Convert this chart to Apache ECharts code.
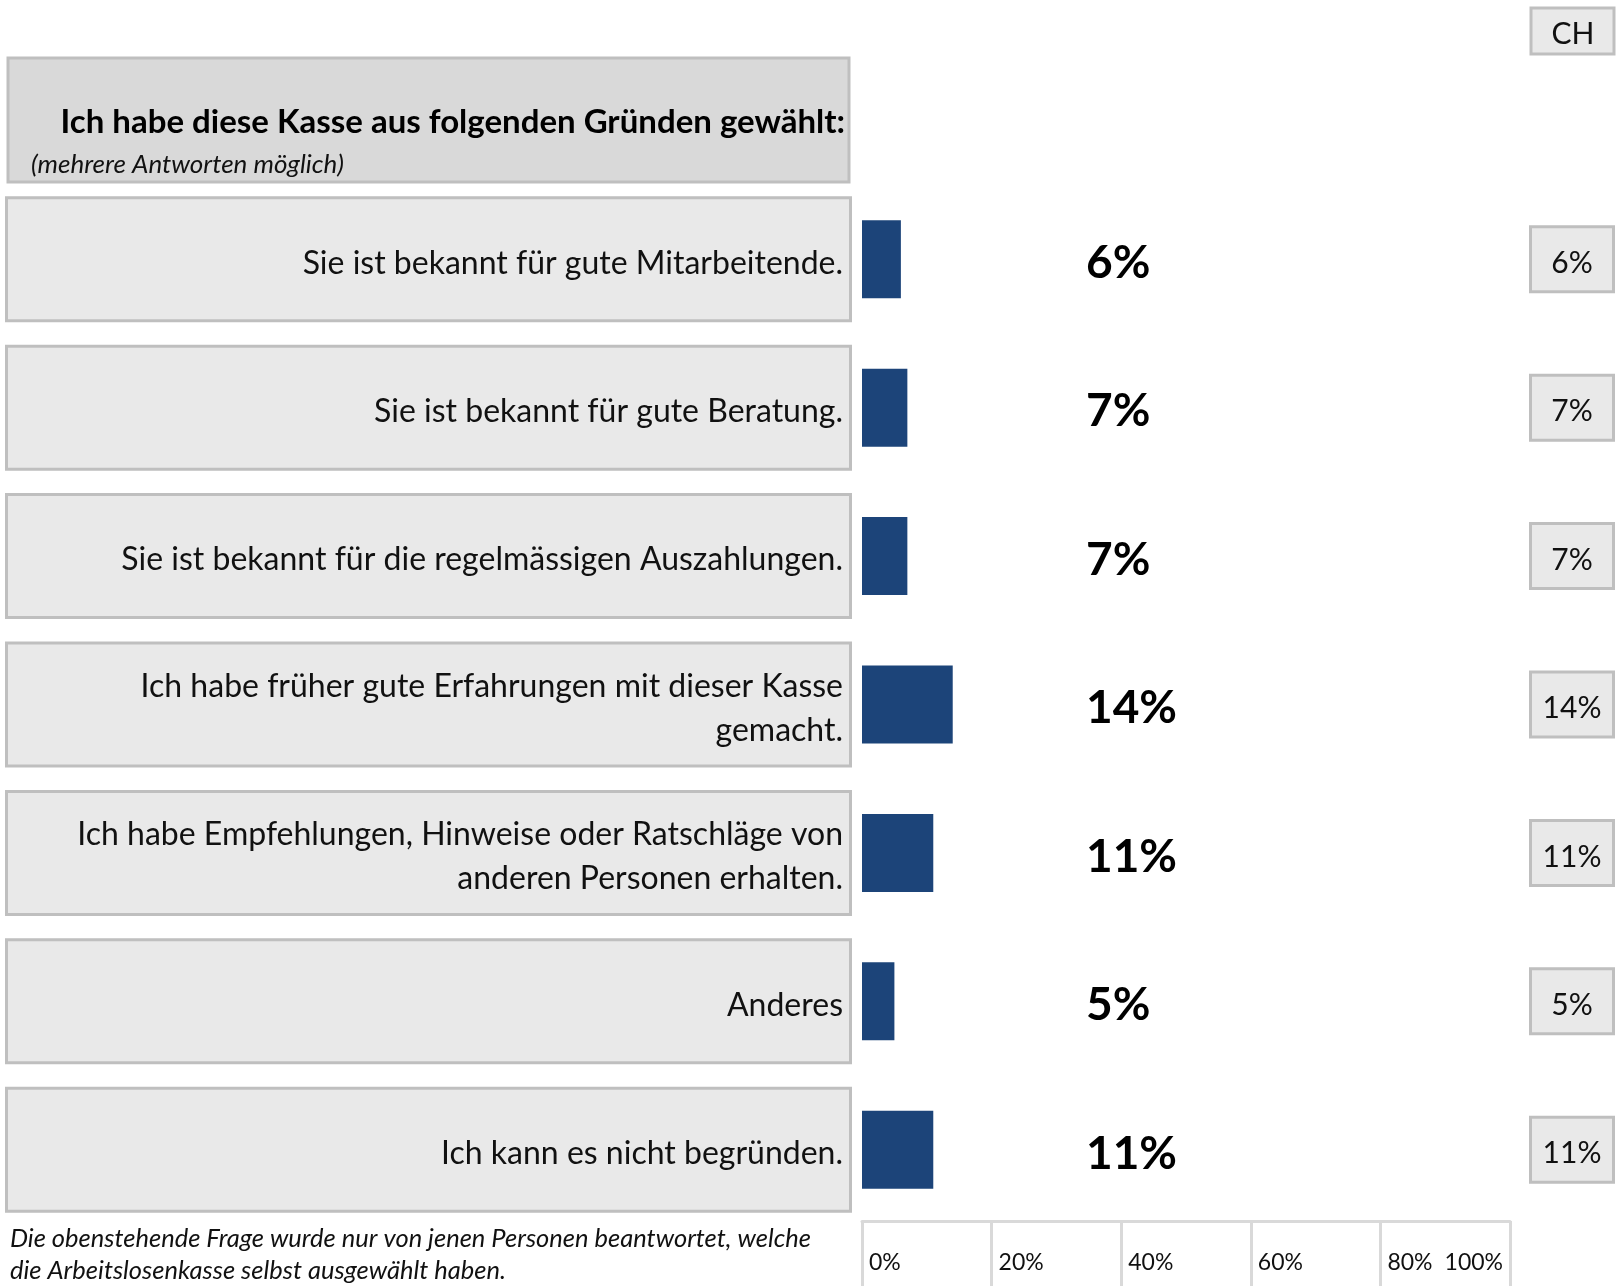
<!DOCTYPE html>
<html>
<head>
<meta charset="utf-8">
<script src="https://cdn.jsdelivr.net/npm/echarts@6/dist/echarts.min.js"></script>
<style>
  html, body { margin: 0; padding: 0; background: #fff; }
  #chart { width: 1620px; height: 1286px; }
</style>
</head>
<body>
<div id="chart"></div>
<script>
// Reasons for choosing the unemployment fund (multiple answers possible)
const categories = [
  'Sie ist bekannt für gute Mitarbeitende.',
  'Sie ist bekannt für gute Beratung.',
  'Sie ist bekannt für die regelmässigen Auszahlungen.',
  'Ich habe früher gute Erfahrungen mit dieser Kasse\ngemacht.',
  'Ich habe Empfehlungen, Hinweise oder Ratschläge von\nanderen Personen erhalten.',
  'Anderes',
  'Ich kann es nicht begründen.'
];
// share of respondents, in percent
const values = [6, 7, 7, 14, 11, 5, 11];
// Switzerland overall, in percent
const chValues = [6, 7, 7, 14, 11, 5, 11];
const axisTicks = [0, 20, 40, 60, 80, 100];

const FONT = 'Lato';
const GRID_LINE = '#d9d9d9';

// one- and two-line labels get their own rich styles so every box is equally tall
const rowLabel = v => {
  const lines = v.split('\n');
  return lines.length === 1
    ? '{s|' + lines[0] + '}'
    : '{a|' + lines[0] + '}\n{b|' + lines[1] + '}';
};
const rowText = { fontFamily: FONT, fontSize: 32, color: '#111' };

const chart = echarts.init(document.getElementById('chart'), null, { renderer: 'canvas' });

chart.setOption({
  backgroundColor: '#ffffff',
  animation: false,
  textStyle: { fontFamily: FONT },
  grid: [
    { left: 862, right: 110, top: 185, height: 1039 },
    { left: 862, right: 110, top: 1221, height: 200 }
  ],
  xAxis: [
    { gridIndex: 0, type: 'value', min: axisTicks[0], max: axisTicks[axisTicks.length - 1],
      interval: 20, show: false },
    { gridIndex: 1, type: 'value', position: 'top',
      min: axisTicks[0], max: axisTicks[axisTicks.length - 1], interval: 20,
      axisLine: { show: true, onZero: false, lineStyle: { color: GRID_LINE, width: 3 } },
      axisTick: { show: false },
      splitLine: { show: true, lineStyle: { color: GRID_LINE, width: 3 } },
      axisLabel: {
        inside: true, margin: 42, verticalAlign: 'middle', align: 'left',
        alignMaxLabel: 'right', padding: [0, 7, 0, 7],
        fontFamily: FONT, fontSize: 23, color: '#111',
        formatter: v => v + '%'
      }
    }
  ],
  yAxis: [
    { gridIndex: 0, type: 'category', data: categories, inverse: true,
      axisLine: { show: false }, axisTick: { show: false },
      axisLabel: {
        margin: 13, align: 'right', verticalAlign: 'middle',
        width: 835, padding: [0, 6, 0, 0],
        backgroundColor: '#e9e9e9', borderColor: '#bfbfbf', borderWidth: 3,
        formatter: rowLabel,
        rich: {
          s: Object.assign({ lineHeight: 120, padding: [8, 0, 0, 0] }, rowText),
          a: Object.assign({ lineHeight: 60, padding: [24, 0, 0, 0] }, rowText),
          b: Object.assign({ lineHeight: 60, padding: [0, 0, 8, 0] }, rowText)
        }
      }
    },
    { gridIndex: 0, type: 'category', data: categories, inverse: true, position: 'right',
      axisLine: { show: false }, axisTick: { show: false },
      axisLabel: {
        margin: 62, align: 'center', verticalAlign: 'middle',
        width: 80,
        backgroundColor: '#e9e9e9', borderColor: '#bfbfbf', borderWidth: 3,
        formatter: (v, i) => '{t|' + chValues[i] + '%}',
        rich: {
          t: { fontFamily: FONT, fontSize: 30, color: '#111', lineHeight: 62, padding: [8, 0, 0, 0] }
        }
      }
    },
    { gridIndex: 1, type: 'value', min: 0, max: 1, show: false }
  ],
  series: [
    {
      type: 'bar', xAxisIndex: 0, yAxisIndex: 0,
      data: values, barWidth: 78,
      itemStyle: { color: '#1c4479' },
      label: {
        show: true, position: [224, '50%'], offset: [0, 4], align: 'left', verticalAlign: 'middle',
        fontFamily: FONT, fontWeight: 'bold', fontSize: 46, color: '#000',
        formatter: p => p.value + '%'
      }
    }
  ],
  graphic: [
    { type: 'rect', shape: { x: 8, y: 58, width: 841, height: 124 },
      style: { fill: '#d9d9d9', stroke: '#bfbfbf', lineWidth: 3 } },
    { type: 'text', x: 845, y: 122,
      style: { text: 'Ich habe diese Kasse aus folgenden Gründen gewählt:',
        font: 'bold 33px ' + FONT, fill: '#000', align: 'right', verticalAlign: 'middle' } },
    { type: 'text', x: 31, y: 165,
      style: { text: '(mehrere Antworten möglich)',
        font: 'italic 26px ' + FONT, fill: '#111', align: 'left', verticalAlign: 'middle' } },
    { type: 'rect', shape: { x: 1531, y: 8, width: 83, height: 46 },
      style: { fill: '#e9e9e9', stroke: '#bfbfbf', lineWidth: 3 } },
    { type: 'text', x: 1573, y: 34,
      style: { text: 'CH', font: '30px ' + FONT, fill: '#111', align: 'center', verticalAlign: 'middle' } },
    { type: 'text', x: 10, y: 1239,
      style: { text: 'Die obenstehende Frage wurde nur von jenen Personen beantwortet, welche',
        font: 'italic 25.5px ' + FONT, fill: '#111', align: 'left', verticalAlign: 'middle' } },
    { type: 'text', x: 10, y: 1271,
      style: { text: 'die Arbeitslosenkasse selbst ausgewählt haben.',
        font: 'italic 25.5px ' + FONT, fill: '#111', align: 'left', verticalAlign: 'middle' } }
  ]
});
</script>
</body>
</html>
